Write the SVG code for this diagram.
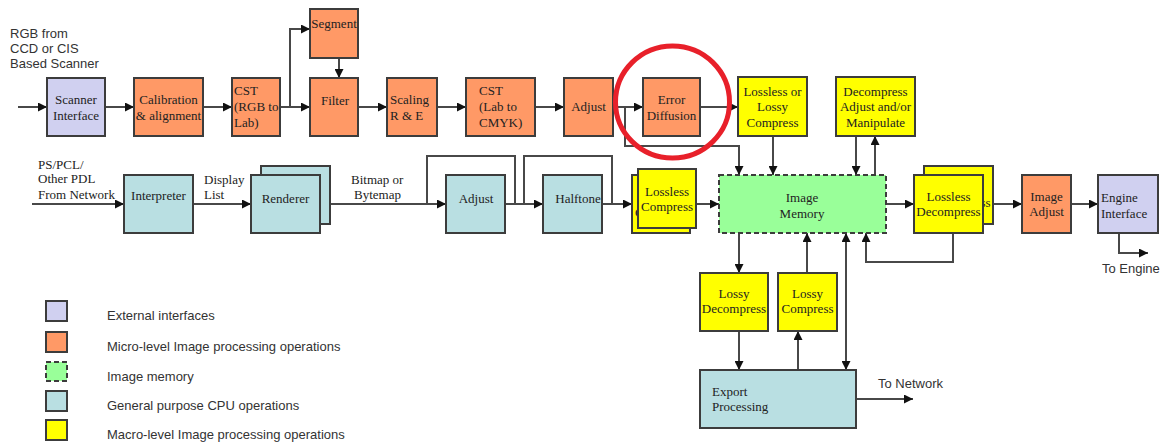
<svg xmlns="http://www.w3.org/2000/svg" width="1166" height="443" viewBox="0 0 1166 443">
<defs>
<marker id="ah" viewBox="0 0 10 10" refX="10" refY="5" markerWidth="9" markerHeight="9" markerUnits="userSpaceOnUse" orient="auto-start-reverse"><path d="M0,0 L10,5 L0,10 z" fill="#111"/></marker>
<style>
.b{stroke:#3c3c3c;stroke-width:2}
.ext{fill:#d0d0f0}.mic{fill:#ff9966}.mem{fill:#99ff99;stroke-dasharray:5 3}.cpu{fill:#b9dfe2}.mac{fill:#ffff00}
.t{font-family:"Liberation Serif","Times New Roman",serif;font-size:13px;fill:#222}
.s{font-family:"Liberation Sans",Arial,sans-serif;font-size:13px;fill:#333}
.m{text-anchor:middle}
.c{fill:none;stroke:#484848;stroke-width:2}
.a{marker-end:url(#ah)}
</style>
</defs>
<rect width="1166" height="443" fill="#fff"/>
<g id="connectors">
<path class="c a" d="M18,107 H47"/>
<path class="c a" d="M105,107 H134"/>
<path class="c a" d="M203,107 H232"/>
<path class="c a" d="M280,107 H310"/>
<path class="c a" d="M290,107 V29 H310"/>
<path class="c a" d="M339,58 V78"/>
<path class="c a" d="M358,107 H387"/>
<path class="c a" d="M437,107 H466"/>
<path class="c a" d="M535,107 H564"/>
<path class="c a" d="M613,107 H643"/>
<path class="c a" d="M700,107 H738"/>
<path class="c a" d="M625,107 V146 H739 V175"/>
<path class="c a" d="M773,136 V175"/>
<path class="c a" d="M856,136 V175"/>
<path class="c a" d="M875,175 V136"/>
<path class="c a" d="M32,204 H124"/>
<path class="c a" d="M193,204 H251"/>
<path class="c a" d="M330,204 H446"/>
<path class="c" d="M427,204 V156 H515 V204"/>
<path class="c a" d="M505,204 H543"/>
<path class="c" d="M524,204 V156 H612 V204"/>
<path class="c a" d="M602,204 H632"/>
<path class="c a" d="M696,204 H719"/>
<path class="c a" d="M886,204 H914"/>
<path class="c a" d="M993,204 H1022"/>
<path class="c a" d="M1071,204 H1098"/>
<path class="c a" d="M1119,233 V253 H1148"/>
<path class="c a" d="M953,233 V262 H866 V233"/>
<path class="c a" d="M739,233 V273"/>
<path class="c a" d="M807,273 V233"/>
<path class="c a" d="M846,233 V370" marker-start="url(#ah)"/>
<path class="c a" d="M739,331 V370"/>
<path class="c a" d="M798,370 V331"/>
<path class="c a" d="M856,399 H913"/>
</g>
<g id="scanner-input"><text class="s" x="10" y="38">RGB from</text><text class="s" x="10" y="53">CCD or CIS</text><text class="s" x="10" y="68">Based Scanner</text></g>
<g id="scanner-interface"><rect class="b ext" x="47" y="78" width="58" height="58"/><text class="t m" x="76" y="104">Scanner</text><text class="t m" x="76" y="120">Interface</text></g>
<g id="calibration"><rect class="b mic" x="134" y="78" width="69" height="58"/><text class="t m" x="168.5" y="104">Calibration</text><text class="t m" x="168.5" y="120">&amp; alignment</text></g>
<g id="cst-rgb-lab"><rect class="b mic" x="232" y="78" width="48" height="58"/><text class="t" x="234" y="95">CST</text><text class="t" x="234" y="111">(RGB to</text><text class="t" x="234" y="127">Lab)</text></g>
<g id="segment"><rect class="b mic" x="310" y="9" width="48" height="49"/><text class="t m" x="334" y="28">Segment</text></g>
<g id="filter"><rect class="b mic" x="310" y="78" width="48" height="58"/><text class="t m" x="335" y="105">Filter</text></g>
<g id="scaling"><rect class="b mic" x="387" y="78" width="50" height="58"/><text class="t" x="390" y="104">Scaling</text><text class="t" x="390" y="120">R &amp; E</text></g>
<g id="cst-lab-cmyk"><rect class="b mic" x="466" y="78" width="69" height="58"/><text class="t" x="479" y="95">CST</text><text class="t" x="479" y="111">(Lab to</text><text class="t" x="479" y="127">CMYK)</text></g>
<g id="adjust-top"><rect class="b mic" x="564" y="78" width="49" height="58"/><text class="t m" x="588.5" y="111">Adjust</text></g>
<g id="error-diffusion"><rect class="b mic" x="643" y="78" width="57" height="58"/><text class="t m" x="671.5" y="104">Error</text><text class="t m" x="671.5" y="120">Diffusion</text></g>
<g id="lossless-lossy-compress"><rect class="b mac" x="738" y="77" width="69" height="59"/><text class="t m" x="772.5" y="96">Lossless or</text><text class="t m" x="772.5" y="111">Lossy</text><text class="t m" x="772.5" y="127">Compress</text></g>
<g id="decompress-adjust"><rect class="b mac" x="836" y="77" width="79" height="59"/><text class="t m" x="875.5" y="96">Decompress</text><text class="t m" x="875.5" y="111">Adjust and/or</text><text class="t m" x="875.5" y="127">Manipulate</text></g>
<g id="image-memory"><rect class="b mem" x="719" y="175" width="167" height="58"/><text class="t m" x="802" y="202">Image</text><text class="t m" x="802" y="218">Memory</text></g>
<g id="lossless-decompress"><rect class="b mac" x="924" y="166" width="69" height="58"/><text class="t m" x="958.5" y="192">Lossless</text><text class="t m" x="958.5" y="207">Decompress</text><rect class="b mac" x="914" y="175" width="69" height="58"/><text class="t m" x="948.5" y="201">Lossless</text><text class="t m" x="948.5" y="216">Decompress</text></g>
<g id="image-adjust"><rect class="b mic" x="1022" y="175" width="49" height="58"/><text class="t m" x="1046.5" y="201">Image</text><text class="t m" x="1046.5" y="216">Adjust</text></g>
<g id="engine-interface"><rect class="b ext" x="1098" y="175" width="60" height="58"/><text class="t" x="1101" y="202">Engine</text><text class="t" x="1101" y="218">Interface</text></g>
<g id="to-engine"><text class="s" x="1102" y="273">To Engine</text></g>
<g id="pdl-input"><text class="t" x="38" y="169">PS/PCL/</text><text class="t" x="38" y="183">Other PDL</text><text class="t" x="38" y="199">From Network</text></g>
<g id="interpreter"><rect class="b cpu" x="124" y="175" width="69" height="58"/><text class="t m" x="158.5" y="200">Interpreter</text></g>
<g id="display-list"><text class="t" x="204" y="184">Display</text><text class="t" x="204" y="199">List</text></g>
<g id="renderer"><rect class="b cpu" x="261" y="166" width="69" height="58"/><rect class="b cpu" x="251" y="175" width="69" height="58"/><text class="t m" x="285.5" y="203">Renderer</text></g>
<g id="bitmap"><text class="t" x="351" y="184">Bitmap or</text><text class="t" x="354" y="199">Bytemap</text></g>
<g id="adjust-cpu"><rect class="b cpu" x="446" y="175" width="59" height="58"/><text class="t m" x="476" y="203">Adjust</text></g>
<g id="halftone"><rect class="b cpu" x="543" y="175" width="59" height="58"/><text class="t m" x="578" y="203">Halftone</text></g>
<g id="lossless-compress"><rect class="b mac" x="632" y="175" width="58" height="58"/><text class="t m" x="661" y="202">Lossless</text><text class="t m" x="661" y="217">Compress</text><rect class="b mac" x="638" y="169" width="58" height="59"/><text class="t m" x="667" y="196">Lossless</text><text class="t m" x="667" y="211">Compress</text></g>
<g id="lossy-decompress"><rect class="b mac" x="700" y="273" width="68" height="58"/><text class="t m" x="734" y="298">Lossy</text><text class="t m" x="734" y="313">Decompress</text></g>
<g id="lossy-compress"><rect class="b mac" x="778" y="273" width="59" height="58"/><text class="t m" x="807.5" y="298">Lossy</text><text class="t m" x="807.5" y="313">Compress</text></g>
<g id="export-processing"><rect class="b cpu" x="700" y="370" width="156" height="58"/><text class="t" x="712" y="396">Export</text><text class="t" x="712" y="411">Processing</text></g>
<g id="to-network"><text class="s" x="878" y="388">To Network</text></g>
<g id="highlight"><ellipse cx="672.5" cy="102" rx="57" ry="56" fill="none" stroke="#e8202a" stroke-width="5"/></g>
<g id="legend">
<rect class="b ext" x="46" y="301" width="21" height="20" stroke="#666"/><text class="s" x="107" y="320">External interfaces</text>
<rect class="b mic" x="46" y="332" width="21" height="20"/><text class="s" x="107" y="351">Micro-level Image processing operations</text>
<rect class="b mem" x="46" y="362" width="21" height="19"/><text class="s" x="107" y="381">Image memory</text>
<rect class="b cpu" x="46" y="391" width="21" height="20"/><text class="s" x="107" y="410">General purpose CPU operations</text>
<rect class="b mac" x="46" y="420" width="21" height="20"/><text class="s" x="107" y="439">Macro-level Image processing operations</text>
</g>
</svg>
